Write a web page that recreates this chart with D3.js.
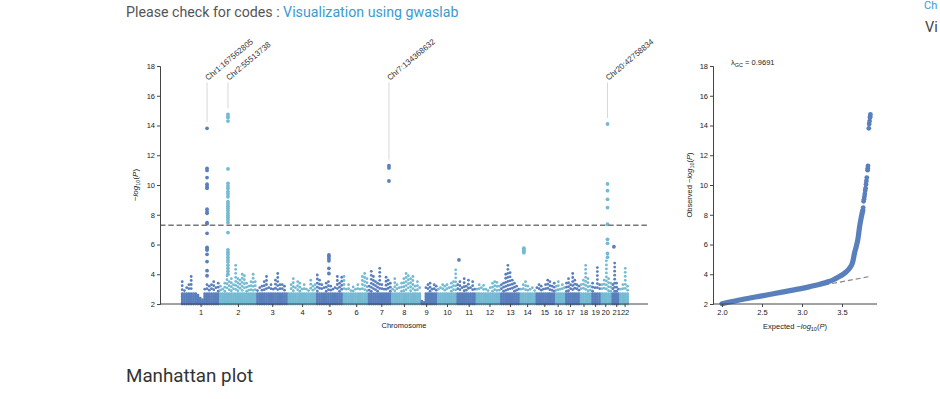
<!DOCTYPE html>
<html><head><meta charset="utf-8">
<script src="https://cdn.jsdelivr.net/npm/d3@7"></script>
<style>html,body{margin:0;padding:0;background:#fff;overflow:hidden}</style>
</head><body><svg id="c" width="940" height="399"></svg>
<script>
// ---------------- data ----------------
const chromosomes = ["1","2","3","4","5","6","7","8","9","10","11","12","13","14","15","16","17","18","19","20","21","22"];
// plotted span of each chromosome (Mb) and tick position inside it (Mb)
const chrWidth = [247,239,203,183,172,163,150,190,106,126,123,158,126,103,126,65,94,74,61,71,48,61];
const chrTick  = [126,120,102,92,85,86,85,81,34,63,77,88,63,47,55,15,30,23,24,28,28,34];
// upper envelope of -log10(P) along each chromosome (evenly spaced bins)
const chrHeights = [
  [3.5,2.9,3.1,3.3,3.85,2.8,2.7,2.6,2.4,2.3,3.0,3.3,3.2,3.3,3.5,3.1,3.4],
  [3.2,3.0,3.4,3.9,3.5,3.7,3.3,4.6,3.7,3.6,4.0,3.9,3.4,3.2,3.5,4.0,3.5],
  [2.9,3.1,3.2,3.5,3.85,3.1,3.3,3.0,3.6,4.05,3.3,3.3,3.2,2.8],
  [2.8,3.3,3.7,3.1,3.5,3.4,3.0,3.3,3.0,2.9,3.6,3.2,3.3],
  [3.95,3.6,3.3,3.1,3.4,3.5,3.2,3.0,3.1,3.85,3.4,3.8],
  [3.85,3.0,3.3,2.9,3.15,3.0,3.3,3.0,3.85,4.05,3.7],
  [3.2,4.2,3.85,3.5,3.4,4.4,3.3,3.0,3.8,3.6,3.4],
  [3.0,3.7,3.3,3.1,3.4,3.7,4.05,3.9,3.7,3.85,3.2,3.5,3.1],
  [2.2,2.1,3.1,3.3,3.4,3.0,3.3,3.2],
  [3.0,3.1,3.3,3.2,3.3,3.1,3.4,3.5,4.3],
  [3.3,3.5,3.1,3.7,3.2,3.6,3.1,3.5,3.0],
  [3.0,3.3,3.1,3.25,3.0,2.9,3.1,3.4,3.5,3.45,3.2],
  [3.3,3.4,4.0,4.6,4.1,3.6,3.4,3.2,3.0],
  [3.0,3.3,3.5,3.2,3.0,3.1,2.9],
  [3.1,3.3,3.2,3.0,3.3,3.6,3.5,3.2,3.4],
  [3.2,3.5,3.0,3.3,3.1],
  [3.4,3.7,3.3,4.05,3.6,3.3,3.2],
  [3.3,3.6,4.6,3.7,3.2],
  [3.4,3.1,4.45,3.3],
  [3.3,3.6,4.9,3.7,3.4],
  [3.3,4.75,3.4,3.0],
  [3.0,3.3,4.4,3.2]
];
// individual variants in the associated loci: chromosome, position (Mb), -log10(P)
const peakChr = [1, 2, 7, 20, 5, 14, 11, 21];
const peakPos = [167.562805, 55.513738, 134.368632, 42.758834, 82, 26, 14, 13];
const peakValues = [
  [13.81,11.12,10.98,10.5,10.05,9.9,9.78,8.37,8.2,8.1,7.47,7.4,6.75,5.81,5.7,5.63,5.34,4.85,4.24,3.9],
  [14.75,14.6,14.53,14.3,11.08,10.11,9.93,9.77,9.55,9.39,9.21,8.88,8.73,8.57,8.44,8.28,8.12,7.97,7.82,7.66,7.48,6.8,5.64,5.48,5.33,5.15,4.98,4.82,4.6,4.4,4.2,4.0],
  [11.3,11.15,10.27],
  [14.1,10.07,9.62,9.04,8.48,7.36,6.35,6.08,5.4,5.15],
  [5.3,5.2,5.05,4.9,4.4,4.05],
  [5.75,5.65,5.55,5.45],
  [4.96],
  [5.85]
];
const annotLabels = ["Chr1:167562805","Chr2:55513738","Chr7:134368632","Chr20:42758834"];
const sigLevel = 7.3;
const yTicks = [2,4,6,8,10,12,14,16,18];
const colors = ["#597FBD","#74BAD3"];
// QQ plot
const qqExpected = [2.0,2.25,2.5,2.75,3.0,3.1,3.2,3.3,3.4,3.45,3.5,3.55,3.6,3.63,3.66,3.68,3.70,3.72,3.74,3.76];
const qqObserved = [2.02,2.3,2.55,2.8,3.05,3.17,3.3,3.45,3.65,3.8,3.95,4.15,4.45,4.75,5.5,5.9,6.4,7.2,7.8,8.3];
const qqTopExpected = [3.765,3.77,3.775,3.78,3.785,3.79,3.795,3.80,3.805,3.81,3.82,3.822,3.825,3.835,3.84,3.845,3.85,3.852,3.855];
const qqTopObserved = [8.48,8.9,9.04,9.21,9.4,9.62,9.78,10.05,10.27,10.5,11.0,11.12,11.28,13.81,14.1,14.3,14.53,14.6,14.75];
const qqXTicks = [2.0,2.5,3.0,3.5];
const lambdaGC = "0.9691";

// ---------------- drawing ----------------
const svg = d3.select("#c");
svg.append("rect").attr("width",940).attr("height",399).attr("fill","#fff");
const FONT = "'Liberation Sans', Arial, sans-serif";

// page text
const head = svg.append("text").attr("x",126).attr("y",17)
  .style("font-family","Roboto, sans-serif").style("font-size","14.2px");
head.append("tspan").attr("fill","#555").text("Please check for codes : ");
head.append("tspan").attr("fill","#3a9bd1").text("Visualization using gwaslab");
svg.append("text").attr("x",126).attr("y",382).attr("fill","#333")
  .style("font-family","Roboto, sans-serif").style("font-size","18.8px").text("Manhattan plot");
svg.append("text").attr("x",924).attr("y",9).attr("fill","#3a9bd1")
  .style("font-family","Roboto, sans-serif").style("font-size","11px").text("Ch");
svg.append("text").attr("x",925).attr("y",32).attr("fill","#444")
  .style("font-family","Roboto, sans-serif").style("font-size","14.5px").text("Vi");

// ---- Manhattan ----
const cumStart = [];
chrWidth.reduce((acc,w,i)=>{cumStart[i]=acc; return acc+w;},0);
const total = d3.sum(chrWidth);
const padL = 136, padR = 124;
const x = d3.scaleLinear().domain([-padL, total+padR]).range([160,648]);
const y = d3.scaleLinear().domain([2,18]).range([304,66]);

const mg = svg.append("g");
// background variants
const bgPts = [];
chrHeights.forEach((hs,ci)=>{
  const n = hs.length;
  hs.forEach((h,i)=>{
    const pos = cumStart[ci] + (i+0.5)/n*chrWidth[ci];
    const base = Math.min(h,2.75);
    for(let v=2.0; v<=base+1e-9; v+=0.1) bgPts.push({pos, v, ci});
    for(let v=h; v>2.8+0.05; v-=0.27) bgPts.push({pos, v, ci});
  });
});
mg.append("g").selectAll("circle").data(bgPts).join("circle")
  .attr("cx",d=>x(d.pos)).attr("cy",d=>y(d.v)).attr("r",1.4)
  .attr("fill",d=>colors[d.ci%2]);

// peak variants
const pkPts = [];
peakChr.forEach((c,k)=>{
  peakValues[k].forEach(v=>pkPts.push({pos:cumStart[c-1]+peakPos[k], v, ci:c-1}));
});
mg.append("g").selectAll("circle").data(pkPts).join("circle")
  .attr("cx",d=>x(d.pos)).attr("cy",d=>y(d.v)).attr("r",1.9)
  .attr("fill",d=>colors[d.ci%2]);

// significance line
mg.append("line").attr("x1",160).attr("x2",648).attr("y1",y(sigLevel)).attr("y2",y(sigLevel))
  .attr("stroke","#777").attr("stroke-width",1.5).attr("stroke-dasharray","5.5,2.8");

// annotations
annotLabels.forEach((lab,k)=>{
  const c = peakChr[k]-1;
  const px = x(cumStart[c]+peakPos[k]);
  const top = d3.max(peakValues[k]);
  mg.append("line").attr("x1",px).attr("x2",px).attr("y1",y(16.9)).attr("y2",y(top)-6)
    .attr("stroke","#d8d8d8").attr("stroke-width",1);
  mg.append("text").attr("transform",`translate(${px+1},${y(16.9)-1.5}) rotate(-40)`)
    .attr("fill","#333").style("font-family",FONT).style("font-size","8px").text(lab);
});

// axes
const yAx = mg.append("g").attr("transform","translate(160,0)")
  .call(d3.axisLeft(y).tickValues(yTicks).tickSize(3).tickPadding(2));
const xAx = mg.append("g").attr("transform","translate(0,304)")
  .call(d3.axisBottom(x).tickValues(chrTick.map((t,i)=>cumStart[i]+t))
    .tickFormat((d,i)=>chromosomes[i]).tickSize(3).tickPadding(3));
xAx.select(".domain").attr("d","M160,0H648");
[yAx,xAx].forEach(a=>{
  a.select(".domain").attr("stroke","#444");
  a.selectAll(".tick line").attr("stroke","#444");
  a.selectAll("text").attr("fill","#222").style("font-family",FONT).style("font-size","7.5px");
});
mg.append("text").attr("x",404).attr("y",328).attr("text-anchor","middle").attr("fill","#222")
  .style("font-family",FONT).style("font-size","7.5px").text("Chromosome");

function logLabel(sel, prefix){
  if(prefix) sel.append("tspan").text(prefix);
  sel.append("tspan").text("\u2212");
  sel.append("tspan").style("font-style","italic").text("log");
  sel.append("tspan").attr("dy",1.5).style("font-size","5.5px").text("10");
  sel.append("tspan").attr("dy",-1.5).text("(");
  sel.append("tspan").style("font-style","italic").text("P");
  sel.append("tspan").text(")");
}
const yl = mg.append("text").attr("transform","translate(138,185) rotate(-90)")
  .attr("text-anchor","middle").attr("fill","#222").style("font-family",FONT).style("font-size","8px");
logLabel(yl,"");

// ---- QQ ----
const qg = svg.append("g");
const qx = d3.scaleLinear().domain([1.8875,3.9375]).range([713,877]);
const qy = d3.scaleLinear().domain([2,18]).range([304,66]);
qg.append("line").attr("x1",qx(2)).attr("y1",qy(2)).attr("x2",qx(3.86)).attr("y2",qy(3.86))
  .attr("stroke","#888").attr("stroke-width",1.2).attr("stroke-dasharray","5,3");
const qline = d3.line().x(d=>qx(d[0])).y(d=>qy(d[1])).curve(d3.curveMonotoneX);
qg.append("path").attr("d",qline(d3.zip(qqExpected,qqObserved)))
  .attr("fill","none").attr("stroke",colors[0]).attr("stroke-width",5.2)
  .attr("stroke-linecap","round").attr("stroke-linejoin","round");
qg.append("g").selectAll("circle").data(d3.zip(qqTopExpected,qqTopObserved)).join("circle")
  .attr("cx",d=>qx(d[0])).attr("cy",d=>qy(d[1])).attr("r",2.4).attr("fill",colors[0]);

const qyAx = qg.append("g").attr("transform","translate(713,0)")
  .call(d3.axisLeft(qy).tickValues(yTicks).tickSize(3).tickPadding(2));
const qxAx = qg.append("g").attr("transform","translate(0,304)")
  .call(d3.axisBottom(qx).tickValues(qqXTicks).tickFormat(d3.format(".1f")).tickSize(3).tickPadding(3));
qxAx.select(".domain").attr("d","M713,0H877");
[qyAx,qxAx].forEach(a=>{
  a.select(".domain").attr("stroke","#444");
  a.selectAll(".tick line").attr("stroke","#444");
  a.selectAll("text").attr("fill","#222").style("font-family",FONT).style("font-size","7.5px");
});
const qxl = qg.append("text").attr("x",795).attr("y",329).attr("text-anchor","middle").attr("fill","#222")
  .style("font-family",FONT).style("font-size","7.5px");
logLabel(qxl,"Expected ");
const qyl = qg.append("text").attr("transform","translate(692,185) rotate(-90)")
  .attr("text-anchor","middle").attr("fill","#222").style("font-family",FONT).style("font-size","7.5px");
logLabel(qyl,"Observed ");
const lam = qg.append("text").attr("x",731).attr("y",65).attr("fill","#222")
  .style("font-family",FONT).style("font-size","7.5px");
lam.append("tspan").text("\u03bb");
lam.append("tspan").attr("dy",1.5).style("font-size","5.5px").text("GC");
lam.append("tspan").attr("dy",-1.5).text(" = " + lambdaGC);
</script></body></html>
